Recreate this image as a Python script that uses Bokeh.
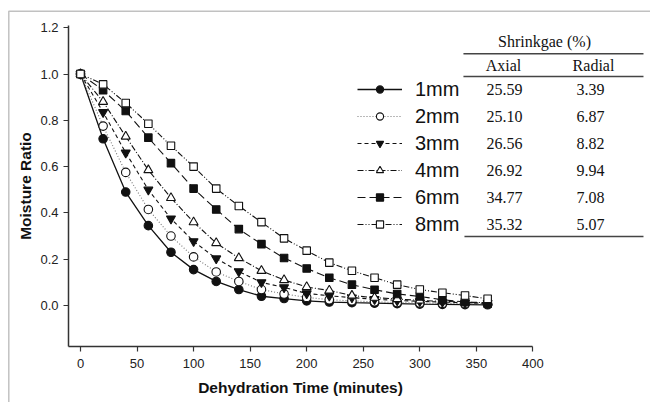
from bokeh.plotting import figure
from bokeh.models import (Range1d, FixedTicker, Legend, LegendItem, Label,
                          Arrow, BoxAnnotation)
from bokeh.embed import file_html
from bokeh.resources import INLINE

# ---- data ----
time_min = [0, 20, 40, 60, 80, 100, 120, 140, 160, 180, 200, 220, 240, 260, 280, 300, 320, 340, 360]
mr_1mm = [1.0, 0.72, 0.49, 0.345, 0.23, 0.155, 0.104, 0.069, 0.04, 0.03, 0.02, 0.015, 0.012, 0.01, 0.008, 0.006, 0.005, 0.004, 0.003]
mr_2mm = [1.0, 0.775, 0.575, 0.415, 0.30, 0.21, 0.145, 0.104, 0.069, 0.05, 0.035, 0.025, 0.02, 0.016, 0.013, 0.011, 0.009, 0.008, 0.007]
mr_3mm = [1.0, 0.835, 0.66, 0.50, 0.375, 0.277, 0.203, 0.147, 0.10, 0.078, 0.052, 0.042, 0.034, 0.027, 0.022, 0.018, 0.015, 0.012, 0.01]
mr_4mm = [1.0, 0.88, 0.73, 0.585, 0.465, 0.36, 0.27, 0.205, 0.15, 0.11, 0.08, 0.065, 0.043, 0.034, 0.028, 0.022, 0.018, 0.015, 0.012]
mr_6mm = [1.0, 0.93, 0.84, 0.725, 0.615, 0.505, 0.415, 0.33, 0.265, 0.205, 0.16, 0.12, 0.09, 0.068, 0.05, 0.039, 0.025, 0.015, 0.008]
mr_8mm = [1.0, 0.955, 0.875, 0.785, 0.69, 0.60, 0.505, 0.43, 0.36, 0.29, 0.237, 0.185, 0.15, 0.12, 0.09, 0.069, 0.055, 0.043, 0.029]

series_labels = ["1mm", "2mm", "3mm", "4mm", "6mm", "8mm"]
shrink_axial = ["25.59", "25.10", "26.56", "26.92", "34.77", "35.32"]
shrink_radial = ["3.39", "6.87", "8.82", "9.94", "7.08", "5.07"]

x_ticks = [0, 50, 100, 150, 200, 250, 300, 350, 400]
y_ticks = [0.0, 0.2, 0.4, 0.6, 0.8, 1.0, 1.2]
y_tick_labels = ["0.0", "0.2", "0.4", "0.6", "0.8", "1.0", "1.2"]

# ---- figure: frame spans the whole canvas, axes drawn at fixed locations ----
X0, X1 = -10.6, 400.0
Y0, Y1 = -0.1771, 1.21
p = figure(width=650, height=402, output_backend="svg", toolbar_location=None,
           title=None,
           x_range=Range1d(-70.73, 504.0), y_range=Range1d(-0.4190, 1.3175),
           min_border=0, min_border_left=0, min_border_right=0,
           min_border_top=0, min_border_bottom=0)
p.outline_line_color = None
p.xgrid.visible = False
p.ygrid.visible = False
p.background_fill_color = "white"
p.border_fill_color = "white"

for ax in (p.xaxis[0], p.yaxis[0]):
    ax.axis_line_color = "#333333"
    ax.axis_line_width = 1.5
    ax.major_tick_line_color = "#333333"
    ax.major_tick_line_width = 1.2
    ax.major_tick_in = 0
    ax.major_tick_out = 5
    ax.minor_tick_line_color = None
    ax.major_label_text_font = "Liberation Sans"
    ax.major_label_text_font_size = "13px"
    ax.major_label_text_color = "#222222"
    ax.axis_label_text_font = "Liberation Sans"
    ax.axis_label_text_font_size = "15.5px"
    ax.axis_label_text_font_style = "bold"
    ax.axis_label_text_color = "#111111"

p.xaxis.fixed_location = Y0
p.yaxis.fixed_location = X0
p.xaxis.bounds = (X0, X1)
p.yaxis.bounds = (Y0, Y1)
p.xaxis.ticker = FixedTicker(ticks=x_ticks)
p.yaxis.ticker = FixedTicker(ticks=y_ticks)
p.yaxis.major_label_overrides = {t: s for t, s in zip(y_ticks, y_tick_labels)}
p.xaxis.axis_label = "Dehydration Time (minutes)"
p.yaxis.axis_label = "Moisture Ratio"
p.xaxis.major_label_standoff = 7
p.yaxis.major_label_standoff = 5
p.xaxis.axis_label_standoff = 8
p.yaxis.axis_label_standoff = 3

styles = [
    dict(dash="solid", color="#111111", marker="circle", fill="#111111", size=8.5, lw=1.3),
    dict(dash="1 2", color="#777777", marker="circle", fill="white", size=8.5, lw=1.1),
    dict(dash="4 3", color="#111111", marker="inverted_triangle", fill="#111111", size=9, lw=1.1),
    dict(dash="6 2 1 2", color="#111111", marker="triangle", fill="white", size=9, lw=1.1),
    dict(dash="8 4", color="#111111", marker="square", fill="#111111", size=7.5, lw=1.1),
    dict(dash="6 2 1 2 1 2", color="#111111", marker="square", fill="white", size=7.5, lw=1.1),
]
all_series = [mr_1mm, mr_2mm, mr_3mm, mr_4mm, mr_6mm, mr_8mm]

items = []
for lab, ys, st in zip(series_labels, all_series, styles):
    lr = p.line(time_min, ys, line_color=st["color"], line_width=st["lw"], line_dash=st["dash"])
    sr = p.scatter(time_min, ys, marker=st["marker"], size=st["size"],
                   fill_color=st["fill"], line_color="#111111", line_width=1.1)
    items.append(LegendItem(label=lab, renderers=[lr, sr]))

legend = Legend(items=items, location=(357, 164.5), orientation="vertical",
                glyph_width=45, glyph_height=18, label_height=27, spacing=0,
                padding=0, margin=0, label_standoff=13,
                label_text_font="Liberation Sans", label_text_font_size="20px",
                label_text_color="#111111", border_line_color=None,
                background_fill_alpha=0)
p.add_layout(legend, "center")

# ---- shrinkage table (serif text, drawn in data units) ----
serif = "Liberation Serif"
def add_text(txt, x, y):
    p.add_layout(Label(x=x, y=y, text=txt, text_font=serif, text_font_size="16px",
                       text_align="center", text_baseline="middle", text_color="#111111"))

add_text("Shrinkgae (%)", 410.3, 1.140)
add_text("Axial", 374.0, 1.037)
add_text("Radial", 453.6, 1.037)
row_y = [0.933, 0.816, 0.700, 0.583, 0.467, 0.350]
for a, r, yy in zip(shrink_axial, shrink_radial, row_y):
    add_text(a, 374.9, yy)
    add_text(r, 450.9, yy)

for (x0, x1, yy) in [(338.6, 497.8, 1.087), (338.6, 497.8, 0.989), (339.5, 497.8, 0.298)]:
    p.add_layout(Arrow(x_start=x0, y_start=yy, x_end=x1, y_end=yy, end=None,
                       line_color="#444444", line_width=1.5))

# ---- outer frame (top and left edges) ----
p.add_layout(BoxAnnotation(left=-63.4, right=600, top=1.2713, bottom=-1,
                           fill_alpha=0, line_color="#333333", line_width=1.5))

open("out.html", "w").write(file_html(p, INLINE))
